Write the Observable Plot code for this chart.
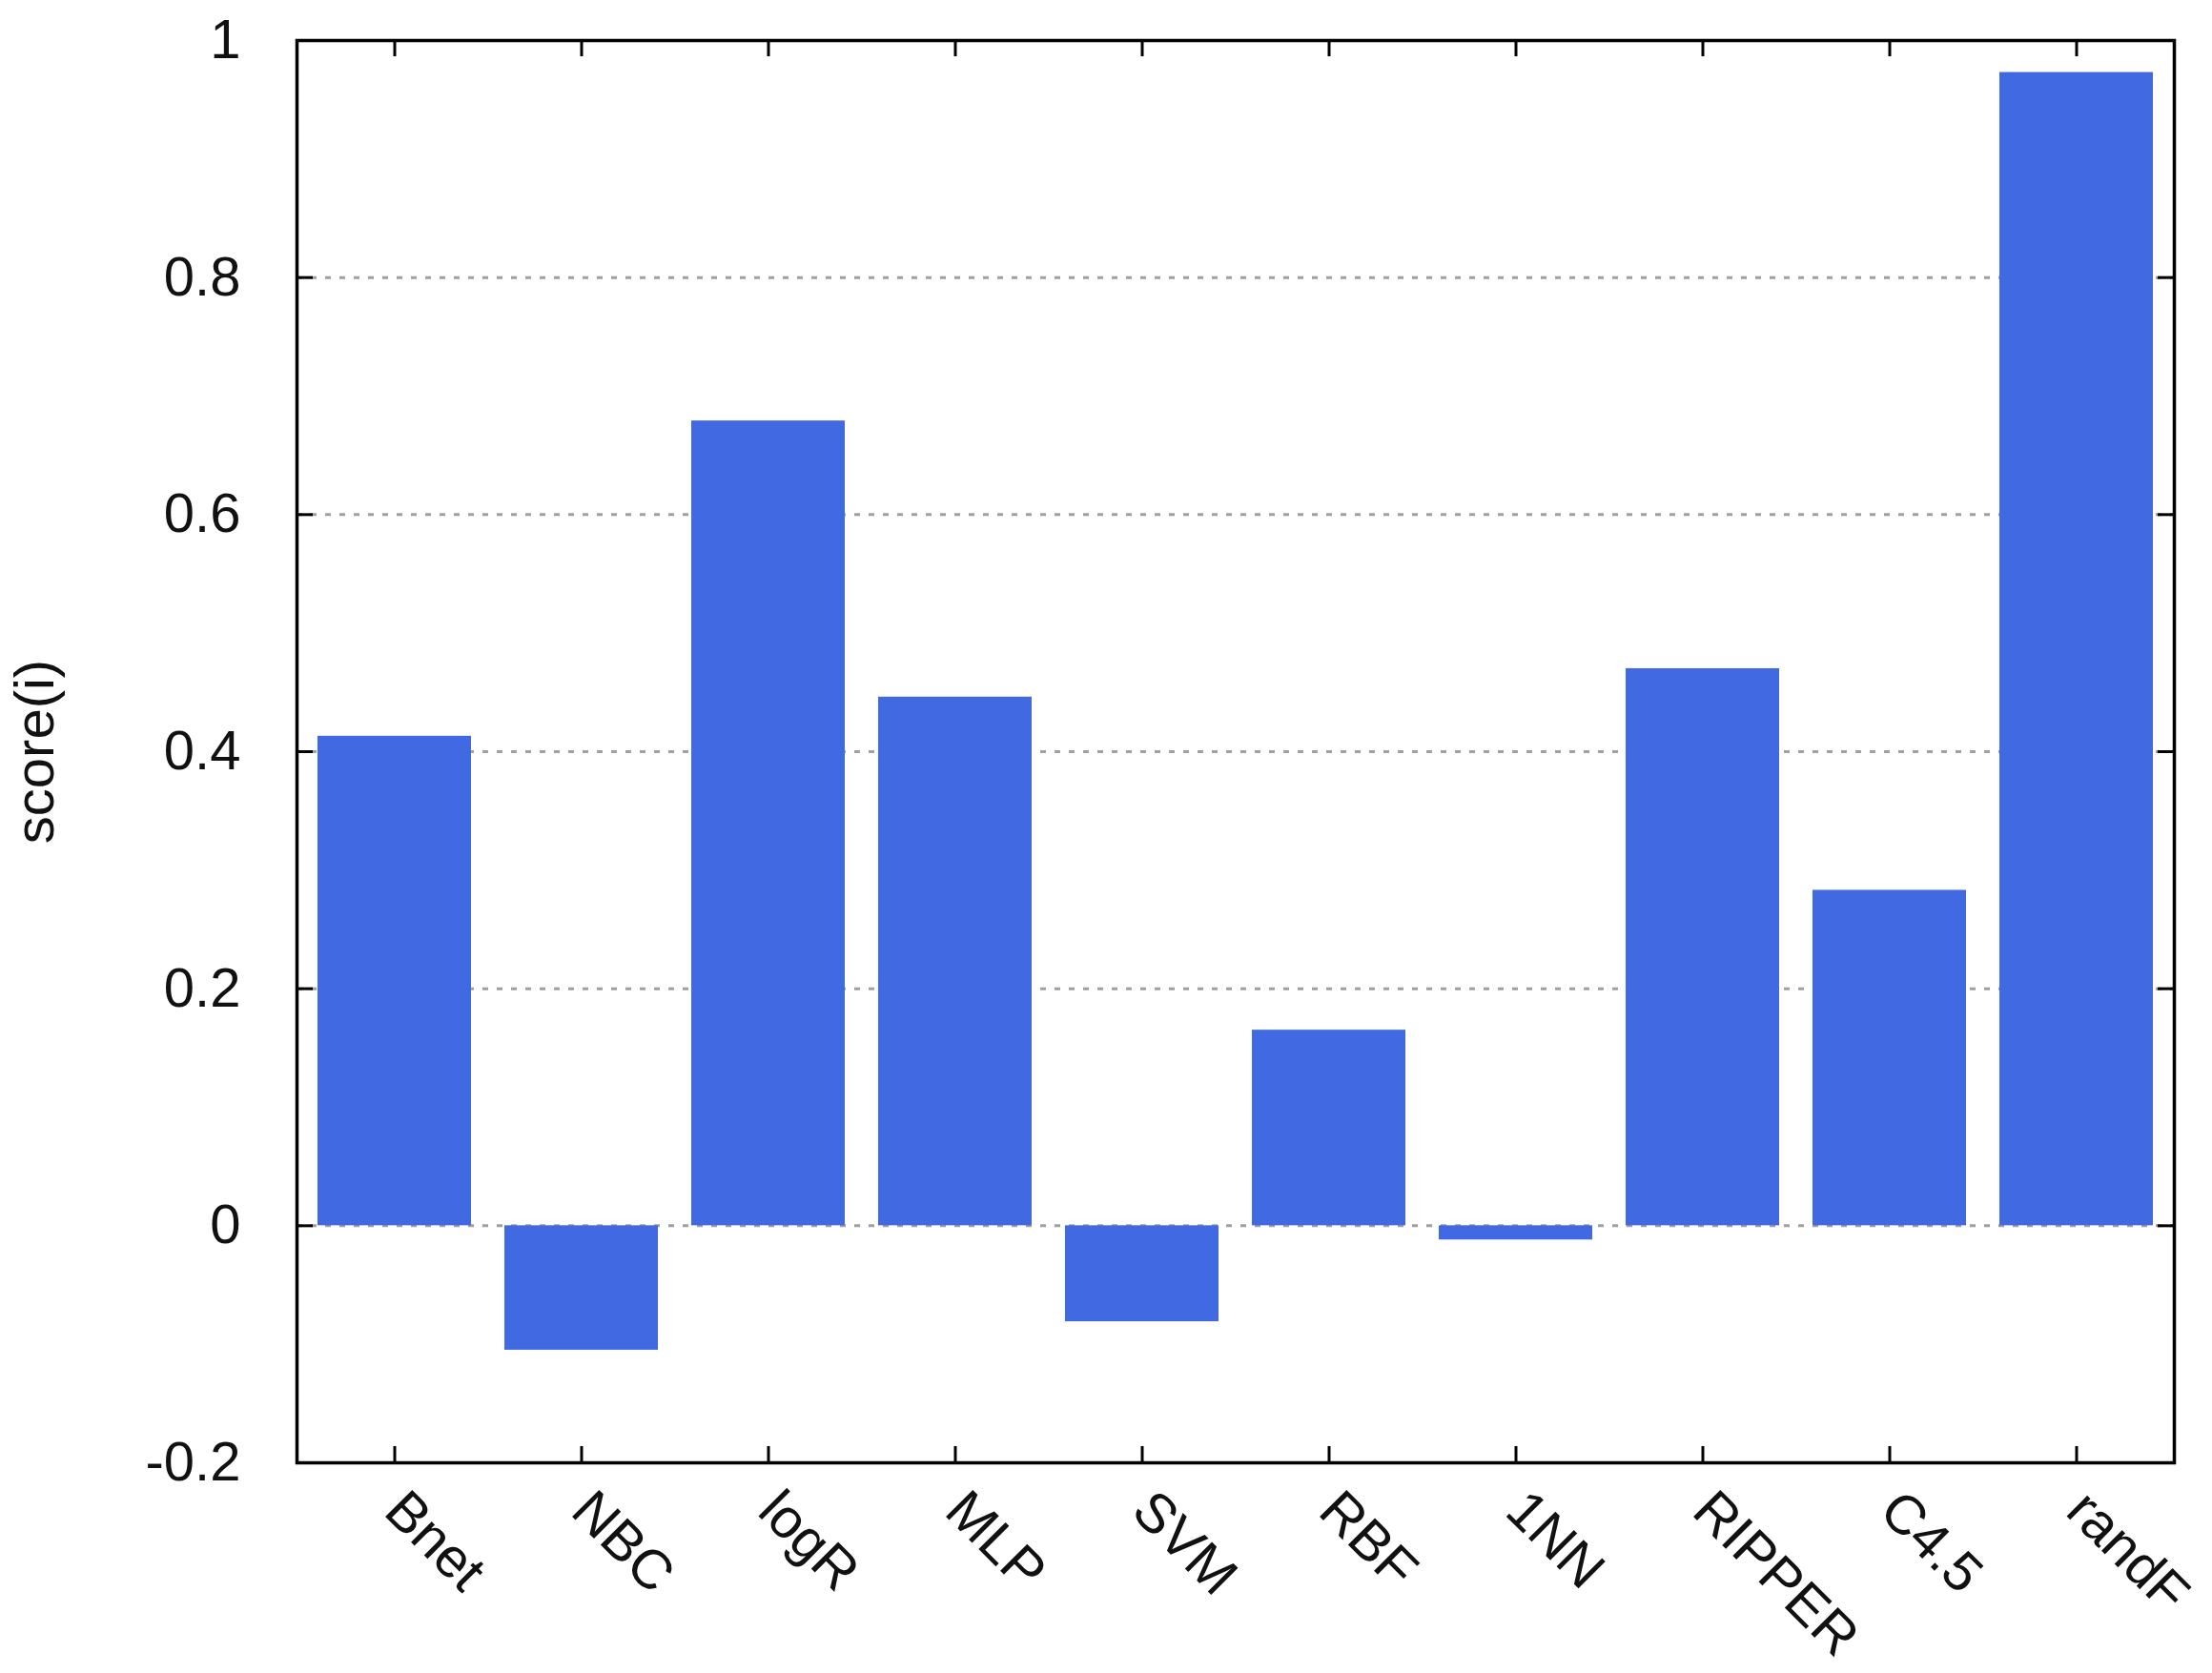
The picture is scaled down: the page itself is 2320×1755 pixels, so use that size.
<!DOCTYPE html>
<html><head><meta charset="utf-8">
<script src="https://cdn.jsdelivr.net/npm/d3@7"></script>
<script src="https://cdn.jsdelivr.net/npm/@observablehq/plot@0.6"></script>
<style>html,body{margin:0;padding:0;background:#fff} svg{display:block}</style>
</head><body><div id="chart"></div>
<script>
const categories = ["Bnet","NBC","logR","MLP","SVM","RBF","1NN","RIPPER","C4.5","randF"];
const scores = [0.413,-0.105,0.679,0.446,-0.081,0.165,-0.012,0.470,0.283,0.973];
const yTicks = [-0.2,0,0.2,0.4,0.6,0.8,1];
const gridTicks = [0,0.2,0.4,0.6,0.8];
const data = categories.map((c,i)=>({method:c, score:scores[i]}));

const W=2320,H=1755, mL=311, mR=40, mT=42, mB=221;
const fw = W-mL-mR, fh = H-mT-mB;
const tick = 17;
const chart = Plot.plot({
  width: W, height: H, marginLeft: mL, marginRight: mR, marginTop: mT, marginBottom: mB,
  style: {fontFamily: "'Liberation Sans', Arial, sans-serif", fontSize: "58px", color:"#111", background:"#fff", overflow:"visible"},
  x: {domain: categories, paddingInner: 0.18, paddingOuter: 0.09, label: null},
  y: {domain: [-0.2, 1], label: null},
  marks: [
    Plot.ruleY(gridTicks, {stroke:"#a0a0a0", strokeWidth:3, strokeDasharray:"6,9"}),
    Plot.barY(data, {x:"method", y:"score", fill:"#4169E1"}),
    Plot.tickY(yTicks, {y: d=>d, stroke:"#000", strokeWidth:3, insetRight: fw - tick}),
    Plot.tickY(yTicks, {y: d=>d, stroke:"#000", strokeWidth:3, insetLeft: fw - tick}),
    Plot.tickX(categories, {x: d=>d, stroke:"#000", strokeWidth:3, insetTop: fh - tick}),
    Plot.tickX(categories, {x: d=>d, stroke:"#000", strokeWidth:3, insetBottom: fh - tick}),
    Plot.axisY({ticks: yTicks, tickSize:0, tickPadding: 59, tickFormat: d=>String(d), label:"score(i)", labelAnchor:"center", labelOffset: 297, labelArrow:"none"}),
    Plot.axisX({tickSize:0, tickPadding: 40, tickRotate: 45, label:null}),
    Plot.frame({stroke:"#000", strokeWidth:3.5})
  ]
});
document.getElementById("chart").appendChild(chart);
</script>
</body></html>
